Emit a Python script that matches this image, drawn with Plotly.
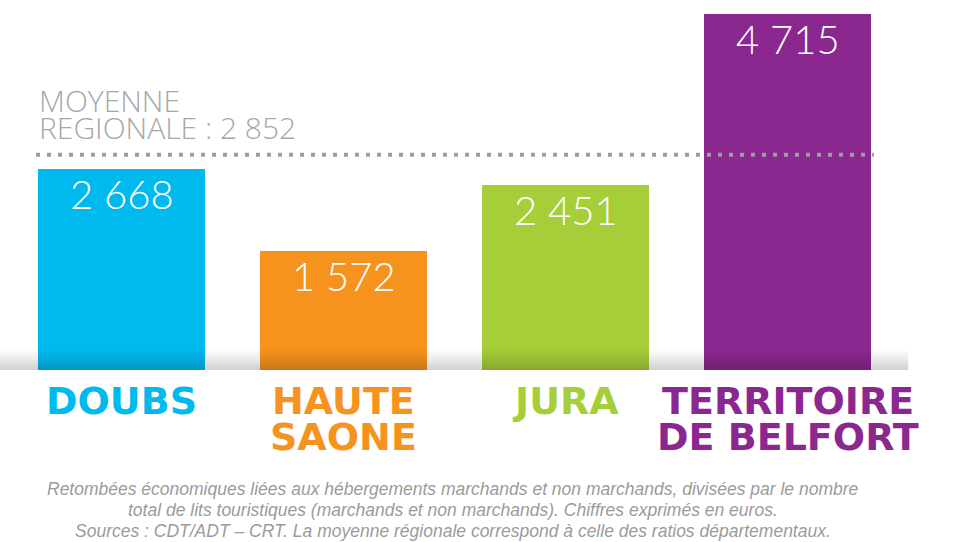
import plotly.graph_objects as go

categories = ["DOUBS", "HAUTE<br>SAONE", "JURA", "TERRITOIRE<br>DE BELFORT"]
values = [2668, 1572, 2451, 4715]
value_labels = ["2 668", "1 572", "2 451", "4 715"]
colors = ["#00b9ef", "#f6921e", "#a6ce39", "#8b288f"]
regional_mean = 2852
mean_label = "MOYENNE<br>REGIONALE : 2 852"
footnote = ("Retombées économiques liées aux hébergements marchands et non marchands, divisées par le nombre<br>"
            "total de lits touristiques (marchands et non marchands). Chiffres exprimés en euros.<br>"
            "Sources : CDT/ADT – CRT. La moyenne régionale correspond à celle des ratios départementaux.")

W, H = 956, 542
plot_h = 370
pitch = 222.0
x_idx = list(range(len(categories)))

fig = go.Figure()
fig.add_trace(go.Bar(
    x=x_idx, y=values, width=167 / pitch,
    marker=dict(color=colors, line=dict(width=0)),
    hoverinfo="skip",
))

x0 = -121.5 / pitch
fig.update_xaxes(range=[x0, x0 + W / pitch], visible=False, fixedrange=True)
fig.update_yaxes(range=[0, 4715 * plot_h / 356.0], visible=False, fixedrange=True)

light_font = "Lato, Roboto, 'Open Sans', sans-serif"
mean_font = "'Open Sans', Lato, sans-serif"
bold_font = "'DejaVu Sans', 'Noto Sans', sans-serif"
foot_font = "'Liberation Sans', Arial, sans-serif"

annotations = []
for xi, v, lab in zip(x_idx, values, value_labels):
    annotations.append(dict(
        x=xi, y=v, xref="x", yref="y", text=lab, showarrow=False,
        yanchor="top", xanchor="center", yshift=1,
        font=dict(family=light_font, size=40, color="white", weight=300),
    ))

for xi, cat, col in zip(x_idx, categories, colors):
    for k, line in enumerate(cat.split("<br>")):
        annotations.append(dict(
            x=xi, y=0, xref="x", yref="y", text="<b>" + line + "</b>", showarrow=False,
            yanchor="top", xanchor="center", yshift=-7 - 36 * k,
            font=dict(family=bold_font, size=38, color=col),
        ))

mean_lines = mean_label.split("<br>")
for k, line in enumerate(mean_lines):
    annotations.append(dict(
        x=37 / W, y=regional_mean, xref="paper", yref="y", text=line,
        showarrow=False, xanchor="left", yanchor="bottom",
        yshift=5 + 27 * (len(mean_lines) - 1 - k), align="left",
        font=dict(family=mean_font, size=30, color="#a7a7a9", weight=300),
    ))

for k, line in enumerate(footnote.split("<br>")):
    annotations.append(dict(
        x=453 / W, y=0, xref="paper", yref="y", text="<i>" + line + "</i>",
        showarrow=False, xanchor="center", yanchor="top", yshift=-(107 + 21 * k),
        align="center",
        font=dict(family=foot_font, size=17.5, color="#9b9b9b"),
    ))

shapes = [dict(
    type="line", xref="paper", yref="y", x0=36 / W, x1=874 / W,
    y0=regional_mean, y1=regional_mean,
    line=dict(color="#9d9d9f", width=4, dash="4px,7px"), layer="above",
)]

# soft shadow band at the bars' base
n = 10
for i in range(n):
    shapes.append(dict(
        type="rect", xref="paper", yref="paper", x0=0, x1=0.95,
        y0=(20 - 2 * (i + 1)) / plot_h, y1=(20 - 2 * i) / plot_h,
        fillcolor="black", opacity=0.018 * (i + 1) ** 1.1 / 1.3, line=dict(width=0),
        layer="above",
    ))

fig.update_layout(
    width=W, height=H,
    margin=dict(l=0, r=0, t=0, b=H - plot_h, pad=0),
    paper_bgcolor="white", plot_bgcolor="white",
    showlegend=False, bargap=0,
    annotations=annotations, shapes=shapes,
)

fig.write_html("out.html", config={"displayModeBar": False, "staticPlot": True},
               post_script="document.body.style.margin='0';")
